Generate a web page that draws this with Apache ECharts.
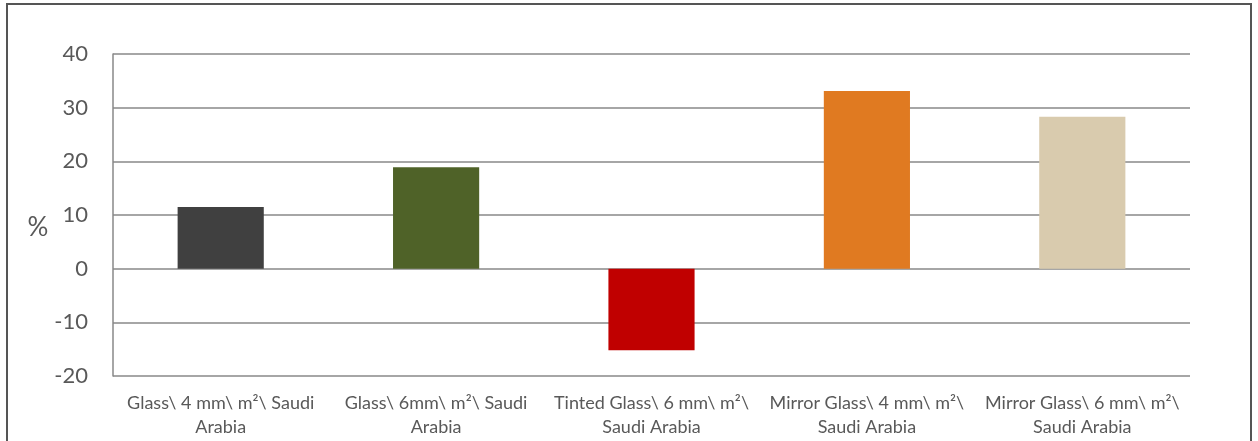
<!DOCTYPE html>
<html>
<head>
<meta charset="utf-8">
<script src="https://cdn.jsdelivr.net/npm/echarts@6/dist/echarts.min.js"></script>
<style>
	html, body { margin: 0; padding: 0; background: #fff; }
	#frame { position: absolute; left: 6px; top: 3px; width: 1246px; height: 450px; border: 2px solid #555; box-sizing: border-box; }
	#chart { position: absolute; left: 0; top: 0; width: 1258px; height: 441px; }
</style>
</head>
<body>
<div id="frame"></div>
<div id="chart"></div>
<script>
var categories = [
	'Glass\\ 4 mm\\ m²\\ Saudi\nArabia',
	'Glass\\ 6mm\\ m²\\ Saudi\nArabia',
	'Tinted Glass\\ 6 mm\\ m²\\\nSaudi Arabia',
	'Mirror Glass\\ 4 mm\\ m²\\\nSaudi Arabia',
	'Mirror Glass\\ 6 mm\\ m²\\\nSaudi Arabia'
];
var values = [11.5, 18.9, -15.2, 33.1, 28.3];
var barColors = ['#404040', '#4f6228', '#c00000', '#e07a21', '#d9cbae'];

window.onload = function () {
	var myChart = echarts.init(document.getElementById('chart'));

	var option = {
		animation: false,
		grid: {
			left: 113,
			right: 68,
			top: 54,
			bottom: 65
		},
		xAxis: {
			type: 'category',
			data: categories,
			axisLine: { show: false, onZero: false },
			axisTick: { show: false },
			axisLabel: {
				color: '#595959',
				fontFamily: 'Lato',
				fontSize: 18,
				lineHeight: 24,
				margin: 15,
				interval: 0
			}
		},
		yAxis: {
			type: 'value',
			min: -20,
			max: 40,
			interval: 10,
			name: '%',
			nameLocation: 'middle',
			nameRotate: 0,
			nameGap: 63,
			nameTextStyle: { color: '#595959', fontSize: 26, fontFamily: 'Lato', verticalAlign: 'top' },
			axisLine: { show: true, lineStyle: { color: '#888', width: 1.5 } },
			axisTick: { show: false },
			axisLabel: {
				color: '#595959',
				fontSize: 22,
				fontFamily: 'Lato',
				margin: 25
			},
			splitLine: { show: true, lineStyle: { color: '#888', width: 1.5 } }
		},
		series: [{
			type: 'bar',
			barWidth: '40%',
			data: values.map(function (v, i) {
				return { value: v, itemStyle: { color: barColors[i] } };
			})
		}]
	};

	myChart.setOption(option);
};
</script>
</body>
</html>
